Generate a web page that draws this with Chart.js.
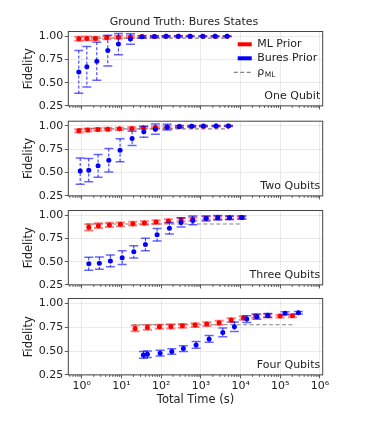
<!DOCTYPE html>
<html>
<head>
<meta charset="utf-8">
<script src="https://cdn.jsdelivr.net/npm/chart.js@4.4.1/dist/chart.umd.min.js"></script>
<style>
  html, body { margin: 0; padding: 0; background: #fff; }
  #fig { position: relative; width: 366px; height: 423px; overflow: hidden; }
  #fig canvas { position: absolute; left: 0; }
</style>
</head>
<body>
<div id="fig"></div>
<script>
// values
const panelNames = ['One Qubit', 'Two Qubits', 'Three Qubits', 'Four Qubits'];
const rhoML = [0.978, 0.967, 0.905, 0.775];
const rhoStart = [0.8, 0.8, 1.3, 19];
const rhoEnd = [4600, 4900, 10900, 200000];

// One Qubit
const q1MlTime = [0.84, 1.34, 2.2, 4.26, 8.36, 16.8, 33, 67.5, 133, 271, 535, 1117, 2280, 4570];
const q1MlFid = [0.972, 0.975, 0.975, 0.982, 0.989, 0.992, 0.995, 0.997, 0.998, 0.998, 0.999, 0.999, 0.999, 0.999];
const q1MlErr = [0.022, 0.02, 0.018, 0.016, 0.015, 0.013, 0.01, 0.008, 0.006, 0.005, 0.004, 0.003, 0.003, 0.002];
const q1BuTime = [0.84, 1.34, 2.39, 4.52, 8.36, 16.8, 33, 67.5, 133, 271, 535, 1117, 2280, 4570];
const q1BuFid = [0.615, 0.67, 0.73, 0.845, 0.915, 0.969, 0.993, 0.997, 0.998, 0.999, 0.999, 0.999, 0.999, 0.999];
const q1BuErr = [0.23, 0.218, 0.205, 0.165, 0.114, 0.056, 0.012, 0.007, 0.005, 0.004, 0.003, 0.003, 0.002, 0.002];

// Two Qubits
const q2MlTime = [0.84, 1.42, 2.53, 4.52, 8.86, 18.2, 35.6, 71.4, 141, 287, 590, 1156, 2415, 4930];
const q2MlFid = [0.947, 0.955, 0.961, 0.965, 0.968, 0.972, 0.979, 0.982, 0.989, 0.993, 0.996, 0.997, 0.998, 0.999];
const q2MlErr = [0.018, 0.016, 0.015, 0.014, 0.013, 0.012, 0.011, 0.01, 0.008, 0.006, 0.005, 0.004, 0.003, 0.003];
const q2BuTime = [0.91, 1.5, 2.57, 4.79, 9.2, 18.5, 36.5, 71.4, 141, 287, 590, 1156, 2415, 4930];
const q2BuFid = [0.516, 0.526, 0.572, 0.632, 0.74, 0.866, 0.937, 0.965, 0.986, 0.993, 0.997, 0.998, 0.998, 0.999];
const q2BuErr = [0.14, 0.124, 0.121, 0.125, 0.123, 0.076, 0.058, 0.054, 0.03, 0.012, 0.008, 0.006, 0.005, 0.004];

// Three Qubits
const q3MlTime = [1.5, 2.62, 4.96, 9.38, 19.3, 37.7, 74.4, 152, 317, 625, 1352, 2666, 5224, 10300];
const q3MlFid = [0.869, 0.887, 0.895, 0.901, 0.908, 0.916, 0.926, 0.937, 0.95, 0.958, 0.968, 0.972, 0.972, 0.974];
const q3MlErr = [0.033, 0.025, 0.022, 0.021, 0.02, 0.019, 0.019, 0.019, 0.019, 0.018, 0.017, 0.016, 0.015, 0.013];
const q3BuTime = [1.5, 2.77, 5.25, 10.4, 20.4, 40, 78.8, 161, 317, 625, 1352, 2666, 5224, 10900];
const q3BuFid = [0.477, 0.484, 0.508, 0.543, 0.606, 0.684, 0.789, 0.859, 0.922, 0.943, 0.964, 0.972, 0.972, 0.975];
const q3BuErr = [0.07, 0.066, 0.063, 0.074, 0.066, 0.067, 0.067, 0.063, 0.05, 0.047, 0.026, 0.023, 0.02, 0.016];

// Four Qubits
const q4MlTime = [22, 44.9, 90, 175, 342, 714, 1409, 2872, 5770, 11770, 24150, 48400, 98900, 201700];
const q4MlFid = [0.737, 0.747, 0.754, 0.758, 0.764, 0.772, 0.782, 0.796, 0.824, 0.845, 0.866, 0.869, 0.866, 0.869];
const q4MlErr = [0.03, 0.025, 0.022, 0.022, 0.02, 0.02, 0.02, 0.02, 0.02, 0.018, 0.018, 0.018, 0.015, 0.015];
const q4BuTime = [35.6, 44.9, 93.8, 185, 362, 757, 1610, 3560, 6980, 14300, 25600, 48400, 132000, 286000];
const q4BuFid = [0.459, 0.466, 0.477, 0.495, 0.526, 0.564, 0.627, 0.695, 0.754, 0.835, 0.859, 0.874, 0.895, 0.901];
const q4BuErr = [0.035, 0.033, 0.03, 0.03, 0.03, 0.035, 0.035, 0.045, 0.05, 0.035, 0.025, 0.02, 0.015, 0.012];

const yTicks = [0.25, 0.5, 0.75, 1.0];

const panels = [
  { ml: [q1MlTime, q1MlFid, q1MlErr], bu: [q1BuTime, q1BuFid, q1BuErr] },
  { ml: [q2MlTime, q2MlFid, q2MlErr], bu: [q2BuTime, q2BuFid, q2BuErr] },
  { ml: [q3MlTime, q3MlFid, q3MlErr], bu: [q3BuTime, q3BuFid, q3BuErr] },
  { ml: [q4MlTime, q4MlFid, q4MlErr], bu: [q4BuTime, q4BuFid, q4BuErr] },
];

// layout of the figure (pixels)
const plotTop = [31.5, 121.2, 210.5, 298.5];
const plotH = 76.4;
const plotLeft = 68.3;
const plotRight = 322.7;
const W = 366;

Chart.defaults.font.family = "'DejaVu Sans', sans-serif";
Chart.defaults.font.size = 11;
Chart.defaults.color = '#222';

const sup = { '0': '⁰', '1': '¹', '2': '²', '3': '³', '4': '⁴', '5': '⁵', '6': '⁶', '-': '⁻' };
const isDecade = v => Math.abs(Math.log10(v) - Math.round(Math.log10(v))) < 1e-9;

const xMin = 0.457, xMax = 1.17e6;
const logTicks = [];
for (let e = -1; e <= 6; e++) {
  for (let m = 1; m <= 9; m++) {
    const v = m * Math.pow(10, e);
    if (v >= xMin && v <= xMax) logTicks.push(v);
  }
}

const toPoints = (xs, ys) => xs.map((x, i) => ({ x: x, y: ys[i] }));

// vertical error bars, drawn under each dataset's markers
const errorBars = {
  id: 'errorBars',
  beforeDatasetDraw(chart, args) {
    const ds = chart.data.datasets[args.index];
    if (!ds.errors) return;
    const { ctx, chartArea: a } = chart;
    const xs = chart.scales.x, ys = chart.scales.y;
    const s = ds.errStyle;
    ctx.save();
    ctx.beginPath();
    ctx.rect(a.left, a.top, a.right - a.left, a.bottom - a.top);
    ctx.clip();
    ds.data.forEach((p, i) => {
      const px = xs.getPixelForValue(p.x);
      const top = ys.getPixelForValue(p.y + ds.errors[i]);
      const bot = ys.getPixelForValue(p.y - ds.errors[i]);
      ctx.strokeStyle = s.color;
      ctx.lineWidth = s.width;
      ctx.setLineDash(s.dash);
      ctx.beginPath();
      ctx.moveTo(px, top);
      ctx.lineTo(px, bot);
      ctx.stroke();
      ctx.setLineDash([]);
      ctx.strokeStyle = s.capColor;
      ctx.lineWidth = s.capWidth;
      ctx.beginPath();
      ctx.moveTo(px - s.cap, top); ctx.lineTo(px + s.cap, top);
      ctx.moveTo(px - s.cap, bot); ctx.lineTo(px + s.cap, bot);
      ctx.stroke();
    });
    ctx.restore();
  }
};

// axes frame, minor ticks, panel label, legend, suptitle
const decorations = {
  id: 'decorations',
  afterDraw(chart, args, opts) {
    const { ctx, chartArea: a } = chart;
    ctx.save();
    // minor x ticks
    ctx.strokeStyle = '#333';
    ctx.lineWidth = 0.8;
    chart.scales.x.ticks.forEach(t => {
      if (isDecade(t.value)) return;
      const px = chart.scales.x.getPixelForValue(t.value);
      ctx.beginPath();
      ctx.moveTo(px, a.bottom);
      ctx.lineTo(px, a.bottom + 2);
      ctx.stroke();
    });
    // frame
    ctx.strokeStyle = '#444';
    ctx.lineWidth = 1;
    ctx.strokeRect(a.left, a.top, a.right - a.left, a.bottom - a.top);

    ctx.fillStyle = '#222';
    ctx.font = "11px 'DejaVu Sans'";
    ctx.textAlign = 'right';
    ctx.textBaseline = 'middle';
    ctx.fillText(opts.label, a.right - 2.5, a.bottom - 9.5);

    if (opts.title) {
      ctx.textAlign = 'center';
      ctx.textBaseline = 'middle';
      ctx.fillText(opts.title, W / 2 + 1, 22.5);
    }

    if (opts.legend) {
      const hx = a.right - 85;
      const tx = a.right - 65.5;
      chart.data.datasets.forEach((ds, i) => {
        const y = a.top + 12.8 + i * 14;
        if (ds.showLine) {
          ctx.strokeStyle = ds.borderColor;
          ctx.lineWidth = ds.borderWidth;
          ctx.setLineDash(ds.borderDash);
          ctx.beginPath();
          ctx.moveTo(hx - 4, y);
          ctx.lineTo(hx + 14, y);
          ctx.stroke();
          ctx.setLineDash([]);
        } else {
          ctx.fillStyle = ds.pointBackgroundColor;
          ctx.fillRect(hx, y - 2, 14, 4);
        }
        ctx.fillStyle = '#222';
        ctx.textAlign = 'left';
        ctx.textBaseline = 'middle';
        ctx.font = "11px 'DejaVu Sans'";
        const parts = ds.label.split('_');
        ctx.fillText(parts[0], tx, y);
        if (parts[1]) {
          const w = ctx.measureText(parts[0]).width;
          ctx.font = "7.5px 'DejaVu Sans'";
          ctx.fillText(parts[1], tx + w + 0.5, y + 3);
        }
      });
    }
    ctx.restore();
  }
};

const fig = document.getElementById('fig');

panels.forEach((panel, i) => {
  const last = i === panels.length - 1;
  const canvasTop = i === 0 ? 0 : Math.floor(plotTop[i]) - 9;
  const padTop = plotTop[i] - canvasTop;
  const canvasH = last ? 423 - canvasTop : Math.ceil(padTop + plotH + 6);
  const xH = canvasH - padTop - plotH;

  const canvas = document.createElement('canvas');
  canvas.width = W;
  canvas.height = canvasH;
  canvas.style.top = canvasTop + 'px';
  fig.append(canvas);

  const config = {
    type: 'scatter',
    data: {
      datasets: [
        {
          label: 'ML Prior',
          data: toPoints(panel.ml[0], panel.ml[1]),
          errors: panel.ml[2],
          errStyle: { color: 'rgba(255,0,0,0.45)', width: 3, dash: [], capColor: 'rgba(255,0,0,0.5)', capWidth: 2, cap: 4.5 },
          pointBackgroundColor: '#ff0000',
          pointBorderWidth: 0,
          pointRadius: 2.5,
          showLine: false,
          order: 2
        },
        {
          label: 'Bures Prior',
          data: toPoints(panel.bu[0], panel.bu[1]),
          errors: panel.bu[2],
          errStyle: { color: 'rgba(0,0,255,0.85)', width: 1, dash: [3, 2], capColor: 'rgba(0,0,255,0.6)', capWidth: 1.5, cap: 4.5 },
          pointBackgroundColor: '#0000ff',
          pointBorderWidth: 0,
          pointRadius: 2.5,
          showLine: false,
          order: 1
        },
        {
          label: 'ρ_ML',
          data: [{ x: rhoStart[i], y: rhoML[i] }, { x: rhoEnd[i], y: rhoML[i] }],
          showLine: true,
          borderColor: 'rgba(110,110,110,0.85)',
          borderWidth: 1.2,
          borderDash: [4, 2.5],
          pointRadius: 0,
          order: 3
        }
      ]
    },
    options: {
      responsive: false,
      animation: false,
      layout: { padding: { top: padTop, left: 0, right: W - plotRight, bottom: 0 } },
      plugins: {
        legend: { display: false },
        tooltip: { enabled: false },
        decorations: {
          label: panelNames[i],
          legend: i === 0,
          title: i === 0 ? 'Ground Truth: Bures States' : null
        }
      },
      scales: {
        x: {
          type: 'logarithmic',
          min: xMin,
          max: xMax,
          afterBuildTicks: s => { s.ticks = logTicks.map(v => ({ value: v, major: isDecade(v) })); },
          afterFit: s => { s.height = xH; },
          border: { display: false },
          grid: {
            color: c => (c.tick && isDecade(c.tick.value)) ? 'rgba(0,0,0,0.08)' : 'rgba(0,0,0,0)',
            tickColor: c => (c.tick && isDecade(c.tick.value)) ? '#333' : 'rgba(0,0,0,0)',
            tickLength: 3.5,
            tickWidth: 0.8
          },
          ticks: {
            display: last,
            autoSkip: false,
            maxRotation: 0,
            minRotation: 0,
            padding: 1,
            color: '#222',
            font: { size: 11 },
            callback: v => isDecade(v) ? '10' + String(Math.round(Math.log10(v))).split('').map(c => sup[c]).join('') : ''
          },
          title: {
            display: last,
            text: 'Total Time (s)',
            font: { size: 11.5 },
            color: '#222',
            padding: { top: 0, bottom: 16 }
          }
        },
        y: {
          min: 0.25,
          max: 1.05,
          afterBuildTicks: s => { s.ticks = yTicks.map(v => ({ value: v })); },
          afterFit: s => { s.width = plotLeft; },
          border: { display: false },
          grid: {
            color: 'rgba(0,0,0,0.08)',
            tickColor: '#333',
            tickLength: 3.5,
            tickWidth: 0.8
          },
          ticks: {
            padding: 1.5,
            color: '#222',
            font: { size: 11 },
            callback: v => v.toFixed(2)
          },
          title: {
            display: true,
            text: 'Fidelity',
            font: { size: 11.5 },
            color: '#222',
            padding: { top: 22.4, bottom: 0 }
          }
        }
      }
    },
    plugins: [errorBars, decorations]
  };

  new Chart(canvas, config);
});
</script>
</body>
</html>
